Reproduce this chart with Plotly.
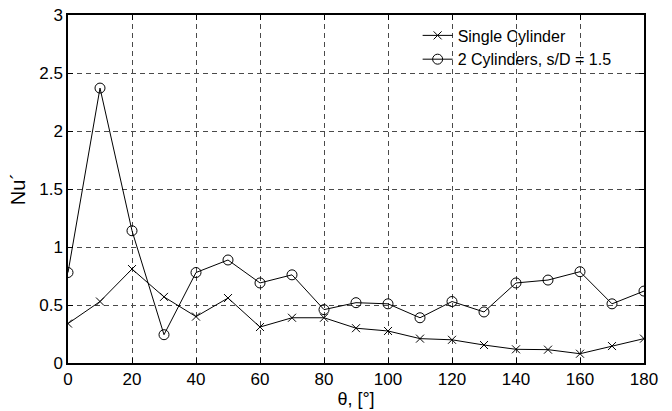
import plotly.graph_objects as go

theta = [0, 10, 20, 30, 40, 50, 60, 70, 80, 90, 100, 110, 120, 130, 140, 150, 160, 170, 180]
nu_single = [0.34, 0.53, 0.81, 0.57, 0.40, 0.56, 0.31, 0.39, 0.39, 0.30, 0.276, 0.21, 0.20,
             0.155, 0.118, 0.115, 0.08, 0.146, 0.21]
nu_pair = [0.78, 2.37, 1.14, 0.244, 0.78, 0.888, 0.69, 0.76, 0.46, 0.52, 0.51, 0.39, 0.53,
           0.44, 0.69, 0.715, 0.787, 0.51, 0.62]

x_ticks = list(range(0, 181, 20))
y_ticks = [0, 0.5, 1, 1.5, 2, 2.5, 3]
y_tick_text = ["0", "0.5", "1", "1.5", "2", "2.5", "3"]

font_family = "Liberation Sans, Arial, sans-serif"

fig = go.Figure()
fig.add_trace(go.Scatter(
    x=theta, y=nu_single, mode="lines+markers", name="Single Cylinder",
    line=dict(color="black", width=1),
    marker=dict(symbol="x-thin-open", size=8, color="black", line=dict(color="black", width=1)),
))
fig.add_trace(go.Scatter(
    x=theta, y=nu_pair, mode="lines+markers", name="2 Cylinders, s/D = 1.5",
    line=dict(color="black", width=1),
    marker=dict(symbol="circle-open", size=10, color="black", line=dict(color="black", width=1)),
))

axis_common = dict(
    showline=True, linecolor="black", linewidth=1.5, mirror="ticks",
    ticks="inside", ticklen=5, tickcolor="black",
    showgrid=True, gridcolor="#4a4a4a", gridwidth=1, griddash="5px,4px",
    zeroline=False, automargin=False,
    tickfont=dict(family=font_family, size=17, color="black"),
)

fig.update_xaxes(
    range=[0, 180], tickvals=x_ticks,
    title=dict(text="θ, [°]", font=dict(family=font_family, size=18, color="black"), standoff=3),
    **axis_common,
)
fig.update_yaxes(
    range=[0, 3], tickvals=y_ticks, ticktext=y_tick_text,
    title=dict(text="Nu´", font=dict(family=font_family, size=20, color="black"), standoff=8),
    **axis_common,
)

fig.update_layout(
    width=672, height=411,
    margin=dict(l=68, r=28, t=15, b=48, autoexpand=False),
    paper_bgcolor="white", plot_bgcolor="white",
    showlegend=True,
    legend=dict(
        x=0.607, y=0.99, xanchor="left", yanchor="top",
        bgcolor="rgba(0,0,0,0)", borderwidth=0,
        font=dict(family=font_family, size=16, color="black"),
        itemwidth=30, tracegroupgap=0,
    ),
)

fig.write_html("out.html")
